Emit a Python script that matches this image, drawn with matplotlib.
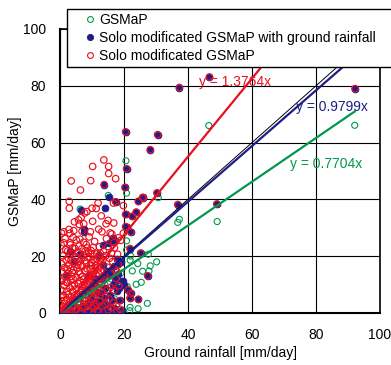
import numpy as np
import matplotlib
matplotlib.use("Agg")
import matplotlib.pyplot as plt
from matplotlib.patches import Rectangle
from matplotlib.lines import Line2D

plt.rcParams['font.family'] = ['Liberation Sans', 'DejaVu Sans']

# ---------------------------------------------------------------- data
series_names = ["GSMaP",
                "Solo modificated GSMaP with ground rainfall",
                "Solo modificated GSMaP"]
slopes = [0.7704, 0.9799, 1.3764]   # fitted y = a x through the origin

# GSMaP (raw satellite estimate)
gsmap_pts = [
    (46.5, 66.0), (92.1, 66.1), (37.3, 33.0), (36.8, 31.9), (49.1, 32.2),
    (20.6, 53.6), (20.8, 42.2), (30.7, 40.6), (20.8, 25.4), (20.8, 22.2),
    (30.2, 18.0), (28.2, 16.6), (27.8, 14.8), (25.8, 14.7), (24.3, 17.4),
    (22.6, 14.8), (25.4, 10.8), (23.8, 10.1), (27.6, 20.7), (22.1, 20.1),
    (21.9, 18.6), (27.3, 3.4), (24.4, 1.5), (21.9, 2.0), (21.8, 0.8),
    (21.0, 9.3), (15.1, 41.4), (6.3, 36.6),
    (1.0, 0.5), (2.0, 1.0), (3.0, 2.0), (4.0, 3.0), (5.0, 2.0), (6.0, 4.0),
    (8.0, 5.0), (9.0, 8.0), (10.0, 6.0), (11.0, 7.0), (12.0, 9.0),
    (13.0, 4.0), (14.0, 10.0), (15.0, 8.0), (16.0, 12.0), (17.0, 5.0),
    (18.0, 12.0), (19.0, 14.0), (7.0, 6.0),
]

# points present in both modified products
shared_pts = [
    (37.3, 79.4), (46.7, 83.1), (92.2, 79.0), (20.5, 63.8), (30.5, 62.8),
    (28.2, 57.5), (20.8, 50.8), (20.3, 44.2), (30.3, 42.3), (25.8, 40.7),
    (24.5, 39.3), (36.8, 38.2), (49.0, 38.4), (20.5, 34.7), (22.6, 34.0),
    (20.5, 30.4), (22.1, 28.5), (21.9, 22.7), (25.2, 21.1), (27.4, 13.1),
    (22.1, 6.9), (21.9, 5.3), (24.5, 4.8), (13.8, 45.2), (17.4, 39.2),
    (21.3, 8.1), (23.8, 35.5), (26.0, 40.5),
]

# modified with ground rainfall only
blue_pts = [
    (0.3, 0.1), (0.8, 0.2), (1.5, 0.1), (2.3, 0.3), (3.1, 0.1), (4.0, 0.4),
    (4.9, 0.2), (5.8, 0.1), (6.7, 0.3), (7.6, 0.2), (8.5, 0.1), (9.4, 0.4),
    (10.3, 0.2), (11.2, 0.1), (12.1, 0.3), (13.0, 0.2), (13.9, 0.5),
    (14.8, 0.2), (15.7, 0.1), (16.6, 0.4), (17.5, 0.2),
    (1.0, 1.2), (2.0, 1.8), (3.0, 2.9), (4.0, 3.6), (5.0, 4.9), (6.0, 5.4),
    (7.0, 6.8), (8.0, 7.7), (9.0, 8.4), (10.0, 9.8), (11.0, 10.5),
    (12.0, 11.9), (13.0, 12.4), (14.0, 13.8), (15.0, 14.5), (16.0, 15.2),
    (17.0, 16.6), (18.0, 17.3), (19.0, 18.1),
    (5.5, 1.5), (7.2, 2.6), (8.8, 3.4), (10.1, 1.4), (11.5, 4.2), (12.7, 2.1),
    (13.6, 5.3), (14.7, 2.9), (15.7, 6.5), (16.8, 1.8), (17.8, 7.7),
    (18.5, 8.8), (19.4, 1.2), (19.8, 11.3), (17.3, 12.3), (15.7, 13.5),
    (14.7, 14.7), (19.4, 11.2), (19.9, 10.0), (12.6, 4.1), (16.5, 9.9),
    (18.9, 4.7), (11.8, 7.3), (9.6, 5.8), (10.8, 2.9),
    (15.2, 24.7), (16.7, 26.3), (17.2, 25.2), (13.5, 24.0), (7.6, 28.6),
    (7.4, 29.6), (14.0, 37.0), (20.9, 30.2), (3.0, 22.0), (6.2, 20.8),
    (2.0, 13.5), (4.5, 18.3), (12.3, 20.5), (17.8, 18.9), (8.6, 13.1),
    (15.4, 40.9), (6.6, 36.3), (14.2, 8.8), (16.2, 4.6), (18.2, 13.9),
    (12.9, 6.6), (17.1, 10.8), (13.4, 16.9), (10.6, 12.2),
]

# modified product without ground rainfall: scattered values
red_upper_pts = [
    (13.7, 53.9), (10.2, 51.6), (15.2, 51.6), (15.2, 49.1), (3.5, 46.5),
    (9.6, 46.6), (17.4, 47.3), (6.4, 43.3), (2.9, 39.3), (2.9, 36.9),
    (11.9, 38.7), (8.4, 35.7), (10.0, 36.9), (11.3, 36.8), (7.7, 35.2),
    (12.9, 34.2), (6.6, 33.6), (5.8, 32.8), (4.5, 32.1), (6.0, 31.2),
    (7.4, 31.4), (10.2, 32.3), (15.0, 32.6), (14.4, 31.4), (16.8, 31.7),
    (2.8, 29.4), (12.1, 29.5), (16.7, 38.7), (19.8, 37.8), (19.8, 28.1),
    (16.9, 24.8), (16.1, 21.1), (17.7, 14.6), (0.5, 28.1), (3.1, 28.1),
    (1.2, 28.6), (4.3, 29.0), (6.9, 28.8), (9.5, 28.6), (13.1, 28.6),
    (15.7, 28.2), (18.3, 26.5), (3.2, 24.7), (1.2, 24.7),
]

# modified product without ground rainfall: dense low-rainfall cluster
red_cluster_pts = [
    (0.3, 0.2), (0.5, 1.0), (0.8, 0.4), (1.0, 2.1), (1.2, 0.8), (1.5, 3.4),
    (1.7, 1.5), (2.0, 0.3), (2.2, 4.8), (2.4, 2.6), (2.6, 6.5), (2.8, 1.2),
    (3.0, 8.9), (3.1, 3.8), (3.3, 11.5), (3.5, 5.6), (3.7, 0.6), (3.9, 14.2),
    (4.0, 7.4), (4.2, 2.3), (4.4, 17.6), (4.5, 9.8), (4.7, 4.5), (4.9, 19.8),
    (5.0, 12.6), (5.2, 1.4), (5.3, 15.9), (5.5, 6.8), (5.7, 21.4), (5.8, 10.3),
    (6.0, 3.1), (6.1, 18.2), (6.3, 13.7), (6.5, 0.5), (6.6, 8.2), (6.8, 22.6),
    (7.0, 16.4), (7.1, 5.2), (7.3, 11.9), (7.5, 20.3), (7.6, 2.0), (7.8, 14.8),
    (8.0, 9.1), (8.2, 24.1), (8.3, 17.5), (8.5, 6.3), (8.7, 12.4), (8.9, 0.9),
    (9.0, 19.6), (9.2, 3.9), (9.4, 15.3), (9.5, 10.7), (9.7, 22.0), (9.9, 7.5),
    (10.1, 13.6), (10.2, 1.7), (10.4, 18.9), (10.6, 5.4), (10.8, 25.2),
    (11.0, 11.2), (11.1, 16.7), (11.3, 3.0), (11.5, 20.8), (11.7, 8.6),
    (11.9, 14.1), (12.1, 0.4), (12.3, 23.3), (12.5, 6.2), (12.8, 17.9),
    (13.0, 10.4), (13.3, 2.5), (13.6, 21.7), (13.9, 13.0), (14.2, 5.7),
    (14.5, 26.2), (14.8, 16.1), (15.1, 1.1), (15.5, 19.3), (15.8, 9.0),
    (16.2, 27.8), (16.6, 3.6), (17.0, 22.9), (17.4, 12.2), (17.8, 0.7),
    (18.2, 17.0), (18.6, 4.3), (19.0, 25.6),
    (0.2, 3.0), (0.4, 5.5), (0.6, 8.0), (0.3, 11.2), (0.7, 14.6), (0.5, 17.3),
    (0.9, 20.1), (0.4, 23.8), (1.1, 6.2), (1.3, 9.7), (1.6, 12.8), (1.4, 16.0),
    (1.9, 18.7), (1.8, 22.3), (2.1, 7.6), (2.3, 10.6), (2.5, 13.9), (2.7, 16.8),
    (2.9, 20.5), (3.2, 24.0), (3.4, 18.4), (3.6, 21.2), (3.8, 9.5), (4.1, 12.0),
    (4.3, 15.1), (4.6, 22.8), (4.8, 1.0), (5.1, 25.7), (5.4, 3.5), (5.6, 17.0),
    (5.9, 14.6), (6.2, 11.3), (6.4, 6.0), (6.7, 19.4), (6.9, 1.8), (7.2, 9.9),
    (7.4, 24.9), (7.7, 7.2), (7.9, 21.8), (8.1, 4.4), (8.4, 15.6), (8.6, 2.8),
    (8.8, 11.8), (9.1, 26.8), (9.3, 8.3), (9.6, 16.8), (9.8, 4.9), (10.0, 20.6),
    (10.3, 9.4), (10.5, 14.3), (10.7, 2.4), (10.9, 18.0), (11.2, 6.8),
    (11.4, 13.1), (11.6, 0.9), (11.8, 16.2), (12.0, 10.0), (12.2, 19.8),
    (12.4, 4.0), (12.7, 14.8), (13.1, 7.4), (13.4, 18.6), (13.7, 11.6),
    (14.0, 3.2), (14.4, 20.2), (14.7, 8.2), (15.0, 23.4), (15.3, 5.0),
    (15.7, 13.8), (16.0, 1.9), (16.4, 18.1), (16.8, 7.9), (17.2, 15.4),
    (17.6, 2.6), (18.0, 20.7), (18.4, 9.6), (18.8, 1.3),
    (1.3, 4.4), (1.9, 10.9), (2.6, 19.3), (3.4, 15.7), (3.9, 22.9),
    (4.5, 6.1), (5.0, 8.5), (5.9, 23.6), (6.5, 16.8), (7.0, 12.9),
    (7.8, 18.4), (8.2, 10.5), (8.9, 21.3), (9.4, 13.2), (9.8, 17.8),
    (10.4, 23.1), (10.9, 8.0), (11.6, 19.0), (12.1, 15.6), (12.6, 21.0),
    (1.6, 26.2), (2.4, 21.8), (4.1, 26.6), (6.2, 26.0), (8.6, 22.9),
    (0.8, 12.0), (2.2, 15.4), (3.6, 12.9), (5.4, 19.2), (6.9, 9.3),
]

x_ticks = [0, 20, 40, 60, 80, 100]
y_ticks = [0, 20, 40, 60, 80, 100]

# ---------------------------------------------------------------- style
GREEN = "#00994C"
NAVY = "#1D1D8A"
RED = "#E8101E"

W, H = 391, 365
fig = plt.figure(figsize=(W / 100, H / 100), dpi=100)
ax = fig.add_axes([60 / W, 1 - 313 / H, 320 / W, 284 / H])

green = np.array(gsmap_pts)
blue = np.array(shared_pts + blue_pts)
red = np.array(shared_pts + red_upper_pts + red_cluster_pts)

# markers: green first, navy on top, red rings last
ax.scatter(green[:, 0], green[:, 1], s=19, facecolors="none",
           edgecolors=GREEN, linewidths=0.8, zorder=3)
ax.scatter(blue[:, 0], blue[:, 1], s=24, facecolors=NAVY,
           edgecolors=NAVY, linewidths=0.6, zorder=4)
ax.scatter(red[:, 0], red[:, 1], s=22, facecolors="none",
           edgecolors=RED, linewidths=0.85, zorder=5)

# 1:1 reference and fitted lines
ax.plot([0, 100], [0, 100], color="black", lw=0.7, zorder=6)
for pts, a, col in [(green, slopes[0], GREEN), (blue, slopes[1], NAVY),
                    (red, slopes[2], RED)]:
    xs = np.array([0.0, pts[:, 0].max()])
    ax.plot(xs, a * xs, color=col, lw=1.6, zorder=6)

ax.text(43.5, 81.2, f"y = {slopes[2]:.4f}x", color=RED, fontsize=10,
        va="center", ha="left", zorder=7)
ax.text(73.7, 72.6, f"y = {slopes[1]:.4f}x", color=NAVY, fontsize=10,
        va="center", ha="left", zorder=7)
ax.text(71.9, 52.6, f"y = {slopes[0]:.4f}x", color=GREEN, fontsize=10,
        va="center", ha="left", zorder=7)

ax.set_xlim(0, 100)
ax.set_ylim(0, 100)
ax.set_xticks(x_ticks)
ax.set_yticks(y_ticks)
ax.tick_params(length=0, labelsize=10)
ax.tick_params(axis="x", pad=11)
ax.tick_params(axis="y", pad=10)
ax.grid(True, color="black", lw=0.8)
ax.set_axisbelow(True)
for side in ["left", "bottom"]:
    ax.spines[side].set_linewidth(1.5)
for side in ["right", "top"]:
    ax.spines[side].set_linewidth(1.2)

fig.text(221 / W, 1 - 353 / H, "Ground rainfall [mm/day]", fontsize=10,
         ha="center", va="center")
fig.text(15 / W, 1 - 171 / H, "GSMaP [mm/day]", fontsize=10,
         ha="center", va="center", rotation=90)

# legend box reaching past the right edge
frame = Rectangle((67 / W, 1 - 66.7 / H), (420 - 67) / W, (66.7 - 9.3) / H,
                  transform=fig.transFigure, facecolor="white",
                  edgecolor="black", lw=1.0, zorder=8)
fig.add_artist(frame)
handles = [
    Line2D([], [], ls="none", marker="o", ms=4.2, mfc="none", mec=GREEN, mew=0.8),
    Line2D([], [], ls="none", marker="o", ms=4.5, mfc=NAVY, mec=NAVY, mew=0.6),
    Line2D([], [], ls="none", marker="o", ms=4.2, mfc="none", mec=RED, mew=0.8),
]
leg = fig.legend(handles, series_names, loc="center left",
                 bbox_to_anchor=(86 / W, 1 - 38 / H), frameon=False,
                 fontsize=10, borderpad=0, handlelength=0.6,
                 handletextpad=0.35, labelspacing=0.3, borderaxespad=0)
leg.set_zorder(9)

fig.savefig("out.png", dpi=100)
